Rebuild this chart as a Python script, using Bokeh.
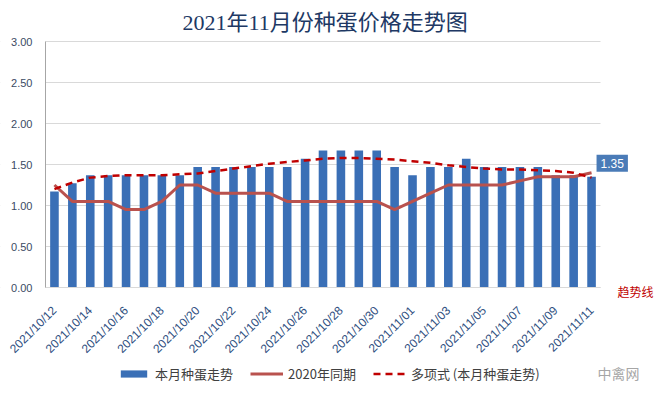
from bokeh.plotting import figure
from bokeh.models import (Range1d, FixedTicker, Legend, LegendItem, Label, NumeralTickFormatter,
                          ColumnDataSource, BoxAnnotation, LinearAxis)
from bokeh.embed import file_html
from bokeh.resources import INLINE

dates = ["2021/10/12", "2021/10/13", "2021/10/14", "2021/10/15", "2021/10/16", "2021/10/17",
         "2021/10/18", "2021/10/19", "2021/10/20", "2021/10/21", "2021/10/22", "2021/10/23",
         "2021/10/24", "2021/10/25", "2021/10/26", "2021/10/27", "2021/10/28", "2021/10/29",
         "2021/10/30", "2021/10/31", "2021/11/01", "2021/11/02", "2021/11/03", "2021/11/04",
         "2021/11/05", "2021/11/06", "2021/11/07", "2021/11/08", "2021/11/09", "2021/11/10",
         "2021/11/11"]
price_2021 = [1.17, 1.27, 1.37, 1.37, 1.37, 1.37, 1.37, 1.37, 1.47, 1.47, 1.47, 1.47,
              1.47, 1.47, 1.57, 1.67, 1.67, 1.67, 1.67, 1.47, 1.37, 1.47, 1.47, 1.57,
              1.47, 1.47, 1.47, 1.47, 1.37, 1.37, 1.35]
price_2020 = [1.25, 1.05, 1.05, 1.05, 0.95, 0.95, 1.05, 1.25, 1.25, 1.15, 1.15, 1.15,
              1.15, 1.05, 1.05, 1.05, 1.05, 1.05, 1.05, 0.95, 1.05, 1.15, 1.25, 1.25,
              1.25, 1.25, 1.30, 1.35, 1.35, 1.35, 1.40]
trend = [1.20, 1.28, 1.34, 1.36, 1.37, 1.37, 1.37, 1.38, 1.39, 1.42, 1.45, 1.48,
         1.51, 1.53, 1.55, 1.57, 1.58, 1.58, 1.57, 1.56, 1.54, 1.52, 1.49, 1.47,
         1.45, 1.44, 1.44, 1.43, 1.42, 1.40, 1.34]
y_ticks = [0, 0.5, 1.0, 1.5, 2.0, 2.5, 3.0]

title_text = "2021年11月份种蛋价格走势图"
legend_labels = ["本月种蛋走势", "2020年同期", "多项式 (本月种蛋走势)"]
trend_note = "趋势线"
watermark = "中禽网"

n = len(dates)
idx = list(range(n))
src = ColumnDataSource(dict(x=idx, d=dates, a=price_2021, b=price_2020, t=trend))

CJK = "Noto Sans CJK SC"

# layout (pixels)
W, H = 659, 395
left, top = 45, 41
plot_w, plot_h = 555, 246          # visible chart area
cat_px = plot_w / n
y_px = plot_h / 3.0
x_start = -0.5 - left / cat_px
x_end = -0.5 + (W - left) / cat_px
y_start = -(H - top - plot_h) / y_px
y_end = 3 + top / y_px

p = figure(width=W, height=H, output_backend="svg", toolbar_location=None,
           x_range=Range1d(x_start, x_end), y_range=Range1d(y_start, y_end),
           x_axis_location=None, y_axis_location=None,
           min_border_left=0, min_border_right=0, min_border_top=0, min_border_bottom=0)
p.outline_line_color = None
p.background_fill_color = "white"
p.border_fill_color = "white"

p.xgrid.visible = False
p.ygrid.grid_line_color = "#d9d9d9"
p.ygrid.ticker = FixedTicker(ticks=y_ticks)

# white masks outside the chart area (grid lines stop there)
p.add_layout(BoxAnnotation(left=n - 0.5, fill_color="white", fill_alpha=1, line_color=None,
                           level="underlay"))
p.add_layout(BoxAnnotation(right=-0.5, fill_color="white", fill_alpha=1, line_color=None,
                           level="underlay"))

yaxis = LinearAxis(ticker=FixedTicker(ticks=y_ticks), formatter=NumeralTickFormatter(format="0.00"),
                   bounds=(0, 3), fixed_location=-0.5)
yaxis.major_tick_line_color = None
yaxis.minor_tick_line_color = None
yaxis.axis_line_color = "#a6a6a6"
yaxis.major_label_text_font = "Liberation Sans"
yaxis.major_label_text_font_size = "11px"
yaxis.major_label_text_color = "#3b4a63"
yaxis.major_label_standoff = 7
p.add_layout(yaxis, "left")

xaxis = LinearAxis(ticker=FixedTicker(ticks=idx[::2]), fixed_location=0, bounds=(-0.5, n - 0.5))
xaxis.major_label_overrides = {i: dates[i] for i in idx[::2]}
xaxis.major_tick_line_color = None
xaxis.minor_tick_line_color = None
xaxis.axis_line_color = "#d9d9d9"
xaxis.major_label_orientation = 0.785398
xaxis.major_label_text_font = "Liberation Sans"
xaxis.major_label_text_font_size = "12px"
xaxis.major_label_text_color = "#2f4f7f"
xaxis.major_label_standoff = 15
p.add_layout(xaxis, "below")

bars = p.vbar(x="x", top="a", width=0.48, source=src, fill_color="#3a6fb6", line_color=None)
l2020 = p.line(x="x", y="b", source=src, line_color="#b9524e", line_width=3)
ltr = p.line(x="x", y="t", source=src, line_color="#c00000", line_width=2.5, line_dash="7 5")

legend = Legend(items=[LegendItem(label=legend_labels[0], renderers=[bars]),
                       LegendItem(label=legend_labels[1], renderers=[l2020]),
                       LegendItem(label=legend_labels[2], renderers=[ltr])],
                orientation="horizontal", location=(117, 12),
                border_line_color=None, background_fill_alpha=0,
                label_text_font=CJK, label_text_font_size="13px", label_text_color="#404040",
                glyph_width=33, glyph_height=9, spacing=17, label_standoff=5,
                padding=0, margin=0)
p.add_layout(legend)

# chart title (screen units, measured from the bottom-left corner)
p.add_layout(Label(x=182, y=H - 22, x_units="screen", y_units="screen", text=title_text,
                   text_font="Liberation Serif, " + CJK, text_font_size="22px",
                   text_color="#203864", text_baseline="middle"))

last = idx[-1]
p.add_layout(Label(x=last, y=price_2021[-1], text="%.2f" % price_2021[-1], x_offset=5, y_offset=5,
                   text_font="Liberation Sans", text_font_size="12px", text_color="white",
                   text_baseline="bottom", background_fill_color="#4a7bb7", padding=4))
p.add_layout(Label(x=last, y=0, text=trend_note, x_offset=26, y_offset=-4,
                   text_font=CJK, text_font_size="12px", text_color="#c00000",
                   text_baseline="middle"))
p.add_layout(Label(x=last, y=0, text=watermark, x_offset=6, y_offset=-85,
                   text_font=CJK, text_font_size="14px", text_color="#a6a6a6",
                   text_baseline="middle"))

open("out.html", "w").write(file_html(p, INLINE))
